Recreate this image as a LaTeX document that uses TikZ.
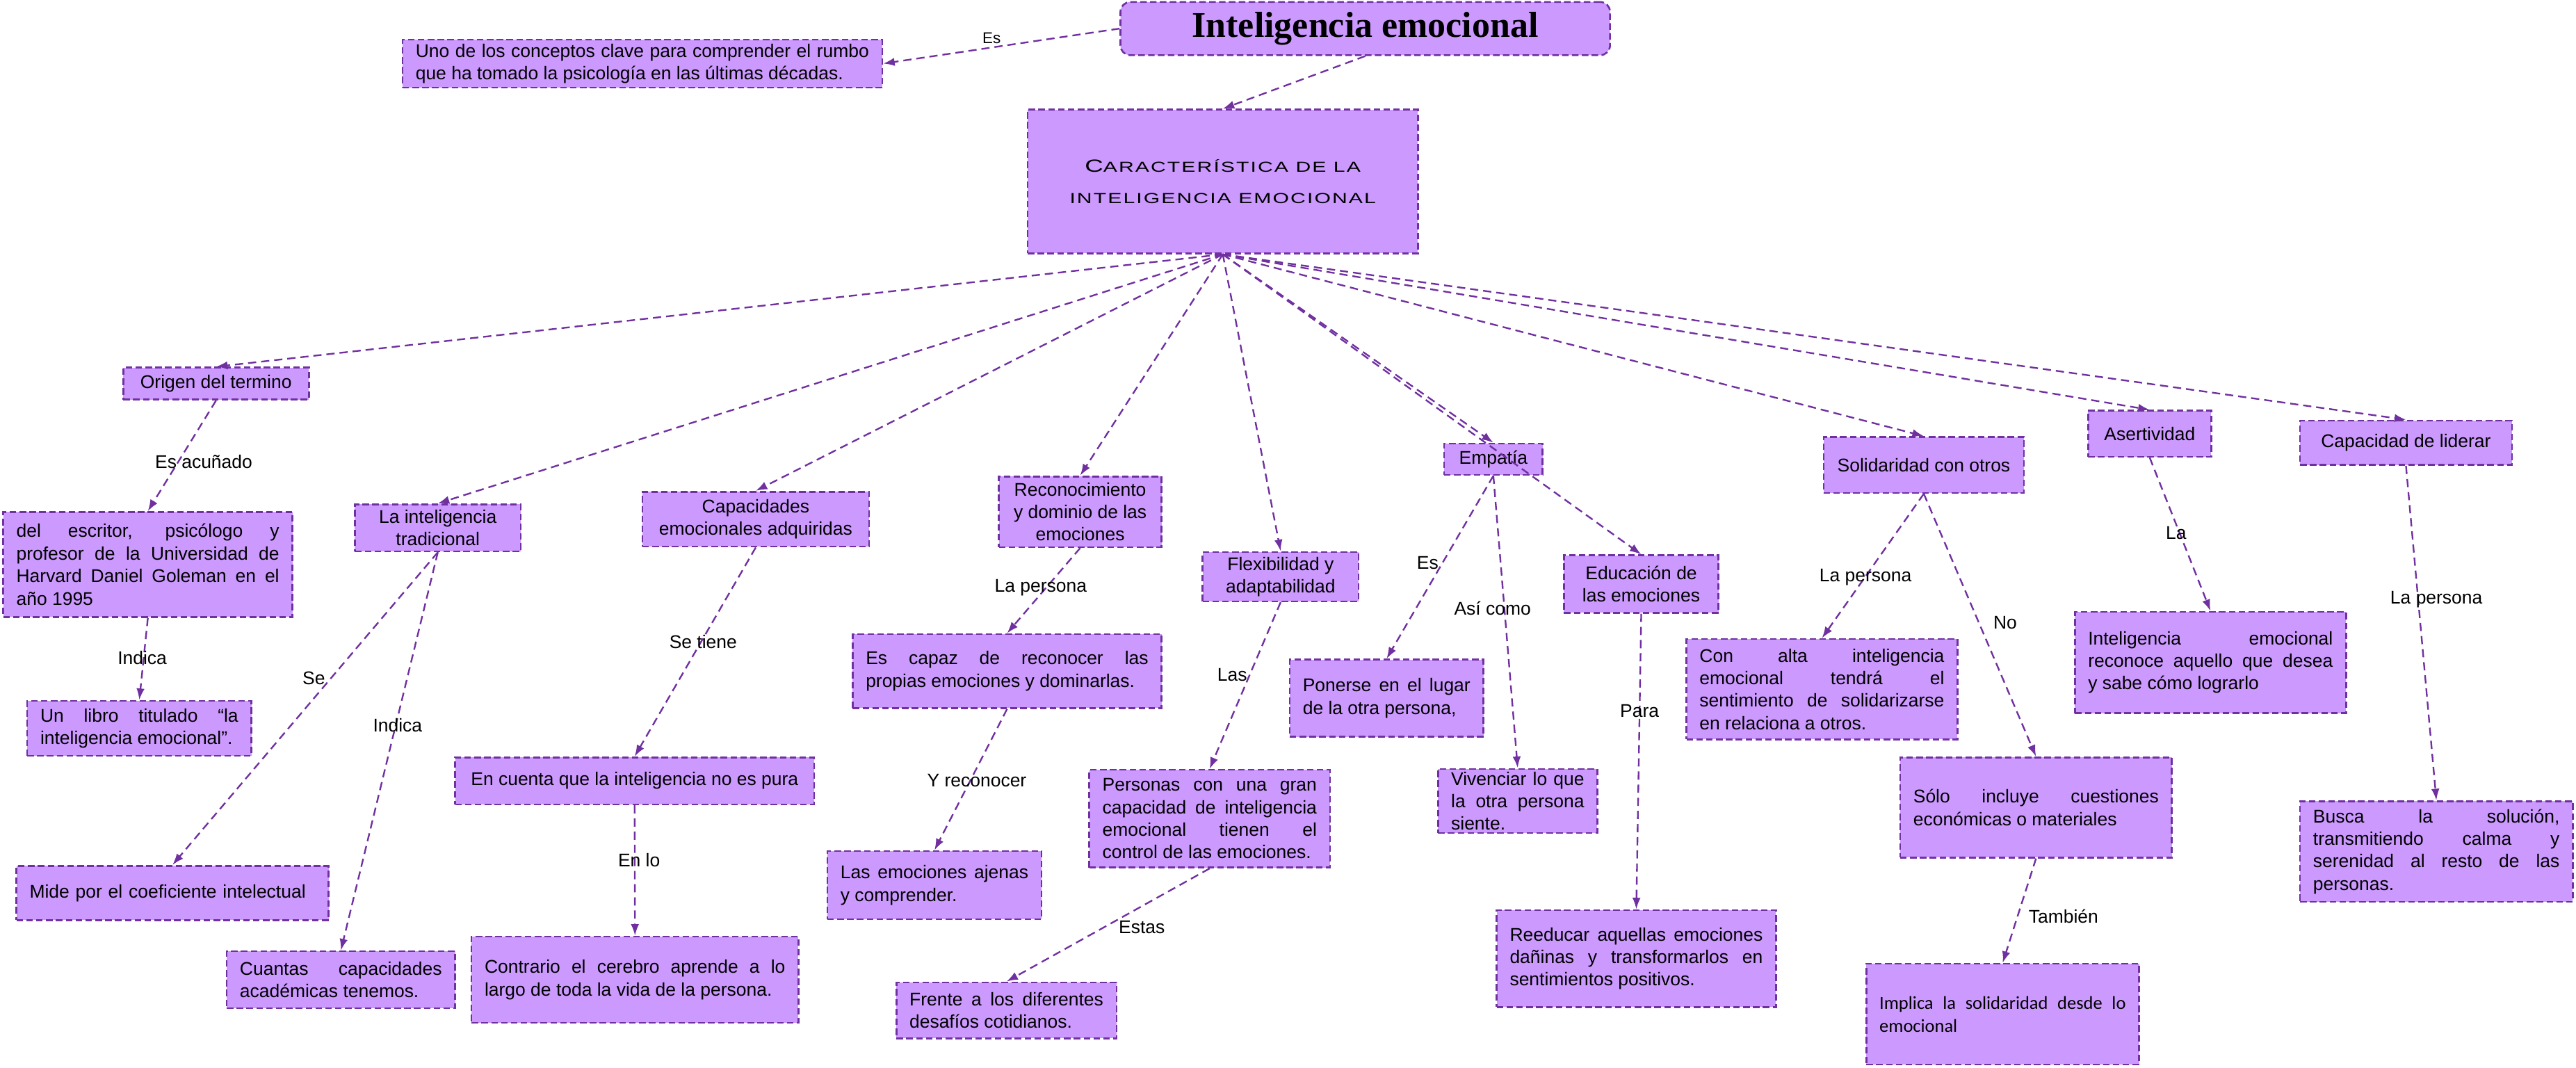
\documentclass[tikz,border=0pt]{standalone}
\usepackage{fontspec}
\setmainfont{Liberation Sans}
\newfontfamily\titlefont{Liberation Serif}
\newfontfamily\capsfont[FakeStretch=1.45,LetterSpace=10]{Liberation Sans}
\newfontfamily\implicafont{Carlito}
\usetikzlibrary{arrows.meta}
\definecolor{cmapfill}{HTML}{CC99FF}
\definecolor{cmapline}{HTML}{7030A0}
\hyphenpenalty=10000 \exhyphenpenalty=10000 \tolerance=10000 \hbadness=10000
\begin{document}
\begin{tikzpicture}[x=1pt,y=-1pt,
   concept/.style={fill=cmapfill,draw=cmapline,line width=1.1pt,dash pattern=on 4pt off 2pt,inner xsep=8pt,inner ysep=2pt,align=center,font=\fontsize{11.2}{13.7}\selectfont},
   concept1/.style={concept,rounded corners=6pt,font=\titlefont\bfseries\fontsize{22}{26}\selectfont},
   concept2/.style={concept,font=\capsfont\fontsize{8.8}{19}\selectfont},
   conceptj/.style={concept,align=justify,text width=#1},
   boxsize/.style 2 args={minimum width=#1,minimum height=#2},
   linkword/.style={inner sep=1pt,text height=8pt,text depth=2pt,font=\fontsize{11.2}{13.7}\selectfont},
   link/.style={draw=cmapline,line width=1pt,dash pattern=on 5pt off 3pt,-{Latex[length=7pt,width=5pt]}}
  ]
  \useasboundingbox (0,0) rectangle (1568,650);
  \node[concept1,boxsize={298pt}{32.4pt}] (title) at (831,17.4) {Inteligencia emocional};
  \node[conceptj=276pt,boxsize={292pt}{29.3pt},font=\fontsize{11.2}{13.4}\selectfont] (uno) at (391,38.7) {Uno de los conceptos clave para comprender el rumbo\linebreak que ha tomado la psicología en las últimas décadas.};
  \node[concept2,boxsize={237.5pt}{87.5pt}] (car) at (744.3,110.5) {{\fontsize{10.7}{19}\selectfont C}ARACTERÍSTICA DE LA\\INTELIGENCIA EMOCIONAL};
  \node[concept,boxsize={113pt}{19.5pt}] (origen) at (131.5,233.5) {Origen del termino};
  \node[conceptj=160pt,boxsize={176pt}{63.9pt}] (escritor) at (90,343.6) {del escritor, psicólogo y\linebreak profesor de la Universidad de\linebreak Harvard Daniel Goleman en el\linebreak año 1995};
  \node[conceptj=120.5pt,boxsize={136.5pt}{33.4pt}] (unlibro) at (84.8,443.3) {Un libro titulado “la\linebreak inteligencia emocional”.};
  \node[concept,boxsize={101pt}{28.6pt}] (trad) at (266.5,321.3) {La inteligencia\\tradicional};
  \node[concept,boxsize={138pt}{33.4pt}] (capac) at (460,316) {Capacidades\\emocionales adquiridas};
  \node[concept,align=left,text width=174pt,boxsize={190pt}{33pt}] (mide) at (105,543.5) {Mide por el coeficiente intelectual};
  \node[conceptj=123pt,boxsize={139pt}{34.6pt}] (cuantas) at (207.5,596.3) {Cuantas capacidades\linebreak académicas tenemos.};
  \node[concept,boxsize={218.5pt}{28.6pt}] (encuenta) at (386.3,475.3) {En cuenta que la inteligencia no es pura};
  \node[conceptj=183pt,boxsize={199pt}{52.5pt}] (contrario) at (386.5,596.3) {Contrario el cerebro aprende a lo\linebreak largo de toda la vida de la persona.};
  \node[concept,boxsize={99pt}{43pt}] (recon) at (657.5,311.5) {Reconocimiento\\y dominio de las\\emociones};
  \node[conceptj=172pt,boxsize={188pt}{45pt}] (escapaz) at (613,408.5) {Es capaz de reconocer las\linebreak propias emociones y dominarlas.};
  \node[conceptj=114.4pt,boxsize={130.4pt}{41.5pt}] (ajenas) at (568.8,538.8) {Las emociones ajenas\linebreak y comprender.};
  \node[concept,boxsize={95pt}{30pt}] (flex) at (779.5,351) {Flexibilidad y\\adaptabilidad};
  \node[conceptj=130.5pt,boxsize={146.5pt}{59.5pt}] (personas) at (736.3,498.3) {Personas con una gran\linebreak capacidad de inteligencia\linebreak emocional tienen el\linebreak control de las emociones.};
  \node[conceptj=118pt,boxsize={134pt}{34pt}] (frente) at (612.6,615) {Frente a los diferentes\linebreak desafíos cotidianos.};
  \node[concept,boxsize={60pt}{19pt}] (empatia) at (909,279.5) {Empatía};
  \node[conceptj=102pt,boxsize={118pt}{47pt}] (ponerse) at (844,425) {Ponerse en el lugar\linebreak de la otra persona,};
  \node[conceptj=81pt,inner ysep=0pt,boxsize={96.5pt}{39pt}] (vivenciar) at (923.8,487.5) {Vivenciar lo que\linebreak la otra persona\linebreak siente.};
  \node[concept,boxsize={94pt}{35pt}] (educ) at (999,355.5) {Educación de\\las emociones};
  \node[conceptj=154pt,boxsize={170pt}{59pt}] (reeducar) at (996,583.5) {Reeducar aquellas emociones\linebreak dañinas y transformarlos en\linebreak sentimientos positivos.};
  \node[concept,boxsize={122pt}{34pt}] (solid) at (1171,283) {Solidaridad con otros};
  \node[conceptj=149pt,boxsize={165pt}{61pt}] (conalta) at (1109,419.5) {Con alta inteligencia\linebreak emocional tendrá el\linebreak sentimiento de solidarizarse\linebreak en relaciona a otros.};
  \node[conceptj=149.4pt,boxsize={165.4pt}{61pt}] (solo) at (1239.3,491.5) {Sólo incluye cuestiones\linebreak económicas o materiales};
  \node[conceptj=150pt,boxsize={166pt}{61.4pt},font=\implicafont\fontsize{11.2}{14.1}\selectfont] (implica) at (1219,617.3) {Implica la solidaridad desde lo\linebreak emocional};
  \node[concept,boxsize={75pt}{28pt}] (asert) at (1308.5,264) {Asertividad};
  \node[conceptj=149pt,boxsize={165pt}{61.6pt}] (reconoce) at (1345.5,403.2) {Inteligencia emocional\linebreak reconoce aquello que desea\linebreak y sabe cómo lograrlo};
  \node[concept,boxsize={129pt}{27pt}] (liderar) at (1464.5,269.5) {Capacidad de liderar};
  \node[conceptj=150pt,boxsize={166pt}{61.3pt}] (busca) at (1483,518.3) {Busca la solución,\linebreak transmitiendo calma y\linebreak serenidad al resto de las\linebreak personas.};
  \path (title.west) edge[link] (uno.east);
  \path (title.south) edge[link] (car.north);
  \path (car.south) edge[link] (origen.north) edge[link] (trad.north) edge[link] (capac.north)
    edge[link] (recon.north) edge[link] (flex.north) edge[link] (empatia.north) edge[link] (educ.north)
    edge[link] (solid.north) edge[link] (asert.north) edge[link] (liderar.north);
  \path (origen.south) edge[link] (escritor.north);
  \path (escritor.south) edge[link] (unlibro.north);
  \path (trad.south) edge[link] (mide.north) edge[link] (cuantas.north);
  \path (capac.south) edge[link] (encuenta.north);
  \path (encuenta.south) edge[link] (contrario.north);
  \path (recon.south) edge[link] (escapaz.north);
  \path (escapaz.south) edge[link] (ajenas.north);
  \path (flex.south) edge[link] (personas.north);
  \path (personas.south) edge[link] (frente.north);
  \path (empatia.south) edge[link] (ponerse.north) edge[link] (vivenciar.north);
  \path (educ.south) edge[link] (reeducar.north);
  \path (solid.south) edge[link] (conalta.north) edge[link] (solo.north);
  \path (solo.south) edge[link] (implica.north);
  \path (asert.south) edge[link] (reconoce.north);
  \path (liderar.south) edge[link] (busca.north);
  \node[linkword,font=\fontsize{9.5}{11}\selectfont] (es1) at (603.6,23.3) {Es};
  \node[linkword] (acunado) at (124,282) {Es acuñado};
  \node[linkword] (indica1) at (86.6,401.5) {Indica};
  \node[linkword] (se) at (191,413.5) {Se};
  \node[linkword] (indica2) at (242,442.5) {Indica};
  \node[linkword] (setiene) at (428,391.5) {Se tiene};
  \node[linkword] (enlo) at (389,524.5) {En lo};
  \node[linkword] (persona1) at (633.5,357.5) {La persona};
  \node[linkword] (yreconocer) at (594.6,476) {Y reconocer};
  \node[linkword] (las) at (750,411.5) {Las};
  \node[linkword] (estas) at (695,565) {Estas};
  \node[linkword] (es2) at (869,343.3) {Es};
  \node[linkword] (asicomo) at (908.5,371.3) {Así como};
  \node[linkword] (para) at (998,433.5) {Para};
  \node[linkword] (persona2) at (1135.5,351) {La persona};
  \node[linkword] (no) at (1220.5,380) {No};
  \node[linkword] (tambien) at (1256,559) {También};
  \node[linkword] (la) at (1324.6,325) {La};
  \node[linkword] (persona3) at (1483,364.5) {La persona};
\end{tikzpicture}
\end{document}
